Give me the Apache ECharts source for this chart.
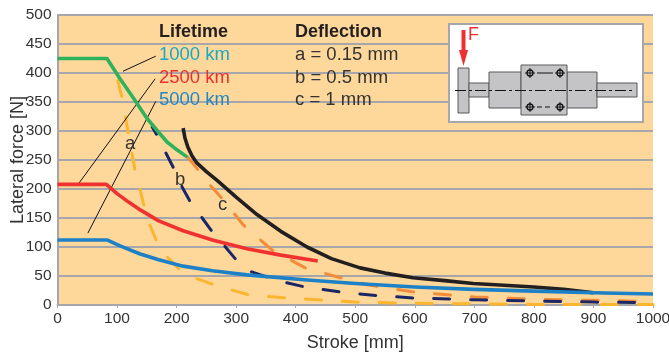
<!DOCTYPE html>
<html><head><meta charset="utf-8">
<style>html,body{margin:0;padding:0;background:#fff}#c{width:669px;height:358px}</style>
<script src="https://cdn.jsdelivr.net/npm/echarts@6/dist/echarts.min.js"></script>
</head><body><div id="c"></div>
<script>
const xTicks = [0,100,200,300,400,500,600,700,800,900,1000];
const yTicks = [0,50,100,150,200,250,300,350,400,450,500];
const life1000 = [[0,425],[83,425],[105,390],[128,356],[150,322],[168,300],[184,281],[200,268],[218,255]];
const life2500 = [[0,208],[82,208],[100,192],[120,177],[139,164],[170,145],[211,128],[260,112],[318,97],[375,86],[437,76]];
const life5000 = [[0,112],[84,112],[105,102],[139,88],[170,78],[211,67],[260,59],[318,52],[419,43],[500,37],[600,31],[700,27],[800,24],[900,21],[1000,19]];
const envelope = [[211,305],[214,288],[219,272],[226,257],[234,245],[250,230],[268,215],[300,186],[335,156],[375,127],[419,100],[460,80],[508,64],[550,55],[597,47],[650,42],[698,37],[750,34],[800,31],[850,27],[900,21]];
const deflA = [[98,400],[108,359],[120,290],[130,233],[139,198],[150,150],[167,109],[185,82],[206,60],[235,45],[265,34],[323,17],[387,12],[450,8],[500,5],[600,3],[700,2],[800,1],[1000,1]];
const deflB = [[159,307],[167,293],[182,262],[197,232],[209,204],[223,178],[243,150],[260,126],[282,100],[300,78],[326,57],[370,42],[416,31],[478,22],[540,16],[600,12],[700,9],[800,7],[900,5],[1000,4]];
const deflC = [[218,255],[234,236],[256,207],[276,184],[312,138],[360,95],[416,64],[475,47],[520,35],[600,22],[700,14],[800,10],[900,8],[1000,6]];
const leader1 = [[110,403],[165,429]];
const leader2 = [[36,210],[164,390]];
const leader3 = [[51,124],[165,351]];

const FONT = '"Liberation Sans", Arial, sans-serif';
const TXT = '#333333';
const GRAY = '#a7a7ab';
const txt = (x,y,text,fill,size,weight,extra) => ({type:'text',x,y,z:20,style:Object.assign({text,fill:fill||TXT,font:(weight||'normal')+' '+(size||18.5)+'px '+FONT,textVerticalAlign:'middle'},extra||{})});
const rect = (x,y,w,h,z) => ({type:'rect',z:z||12,shape:{x,y,width:w,height:h},style:{fill:'#c4c4c6',stroke:'#58585a',lineWidth:1}});
const line = (x1,y1,x2,y2,extra) => ({type:'line',z:14,shape:{x1,y1,x2,y2},style:Object.assign({stroke:'#111',lineWidth:1},extra||{})});
const hole = (x,y) => [
  {type:'circle',z:15,shape:{cx:x,cy:y,r:3},style:{fill:'none',stroke:'#111',lineWidth:1.3}},
  line(x-5,y,x+5,y), line(x,y-5,x,y+5)
];
const dash = {lineDash:[11,3,3,3]};
const graphics = [
  txt(159,32,'Lifetime','#231f20',18,'bold'),
  txt(295,32,'Deflection','#231f20',18,'bold'),
  txt(159,55,'1000 km','#17a9c6'),
  txt(159,78,'2500 km','#ee2f2f'),
  txt(159,100,'5000 km','#1f88c8'),
  txt(295,55,'a = 0.15 mm'),
  txt(295,78,'b = 0.5 mm'),
  txt(295,100,'c = 1 mm'),
  txt(125,144,'a'),
  txt(175,180,'b'),
  txt(218,205,'c'),
  {type:'rect',z:10,shape:{x:449,y:24,width:194,height:98},style:{fill:'#fff',stroke:GRAY,lineWidth:2}},
  rect(458,68,11,45),
  rect(469,83,20,14),
  rect(489,72,32,36),
  rect(567,72,30,36),
  rect(597,83,40,14),
  rect(521,65,46,50,13),
  line(455,90.5,635,90.5,dash),
  ...hole(530,73),...hole(560,73),...hole(530,107),...hole(560,107),
  line(537,73,553,73),line(537,107,553,107,{lineDash:[5,3]}),
  {type:'rect',z:15,shape:{x:461.5,y:30,width:4,height:22},style:{fill:'#ee3030'}},
  {type:'polygon',z:15,shape:{points:[[459,50],[468,50],[463.5,66]]},style:{fill:'#ee3030'}},
  txt(468,35,'F','#ee3030',18)
];
const ln = (data,color,width,dashed,dashOffset) => ({
  type:'line',data,symbol:'none',smooth:false,clip:false,
  lineStyle:{color,width,cap:dashed?'round':'butt',join:'round',type:dashed?[16,21]:'solid',dashOffset:dashOffset||0}
});
const thin = data => ({type:'line',data,symbol:'none',silent:true,lineStyle:{color:'#111',width:1}});
const chart = echarts.init(document.getElementById('c'),null,{renderer:'canvas'});
chart.setOption({
  animation:false,
  backgroundColor:'#fff',
  textStyle:{fontFamily:FONT},
  grid:{left:57.5,right:16,top:15,bottom:53,outerBoundsMode:'none',show:true,backgroundColor:'#fed89a',borderWidth:0},
  xAxis:{type:'value',min:0,max:1000,interval:100,
    name:'Stroke [mm]',nameLocation:'middle',nameGap:29,nameTextStyle:{fontSize:18,color:TXT,fontFamily:FONT},
    axisLine:{show:true,lineStyle:{color:GRAY,width:2}},
    axisTick:{show:true,length:3,lineStyle:{color:GRAY,width:1}},
    axisLabel:{fontSize:15.5,color:TXT,margin:6,fontFamily:FONT,hideOverlap:false,showMinLabel:true,showMaxLabel:true,formatter:v=>xTicks.includes(v)?String(v):''},
    splitLine:{show:false}},
  yAxis:{type:'value',min:0,max:500,interval:50,
    name:'Lateral force [N]',nameLocation:'middle',nameGap:30,nameMoveOverlap:false,nameTextStyle:{fontSize:18,color:TXT,fontFamily:FONT},
    axisLine:{show:true,onZero:false,lineStyle:{color:GRAY,width:2}},
    axisTick:{show:false},
    axisLabel:{fontSize:15.5,color:TXT,margin:6,padding:[0,0,3,0],fontFamily:FONT,formatter:v=>yTicks.includes(v)?String(v):''},
    splitLine:{show:true,lineStyle:{color:GRAY,width:2}}},
  series:[
    ln(deflA,'#fbb52e',3,true,29),
    ln(deflC,'#f28c38',3,true,0),
    ln(deflB,'#1c2566',3,true,7.5),
    thin(leader1),thin(leader2),thin(leader3),
    ln(envelope,'#231f20',3.6),
    ln(life1000,'#2fb25c',3.6),
    ln(life2500,'#ef3230',3.6),
    ln(life5000,'#1c81c6',3.6)
  ],
  graphic:graphics
});
</script></body></html>
